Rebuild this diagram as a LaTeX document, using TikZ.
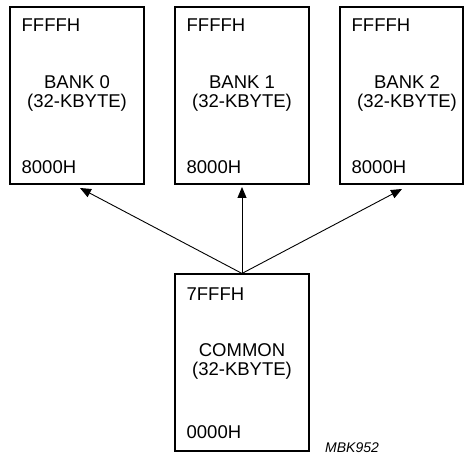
\documentclass[tikz,border=0pt]{standalone}
\usepackage{fontspec}
\setmainfont{Liberation Sans}
\usetikzlibrary{arrows.meta}
\tikzset{
  bankbox/.style={draw, line width=1.1pt, minimum width=134pt, minimum height=177pt, inner sep=0pt},
  banklabel/.style={align=center, inner sep=0pt},
  addr/.style={anchor=base west, inner sep=0pt},
  conn/.style={line width=0.9pt, -{Triangle[length=11pt,width=9pt]}}
}
\begin{document}
\begin{tikzpicture}[x=1pt, y=-1pt, font=\fontsize{18.5}{19}\selectfont]
            \useasboundingbox (0,0) rectangle (464,457);
            % the three banks
            \node[bankbox] (b0) at (77,95.5) {};
            \node[bankbox] (b1) at (242,95.5) {};
            \node[bankbox, minimum width=123pt] (b2) at (401.5,95.5) {};
            \node[banklabel] (b0name) at ([yshift=2pt]b0.center) {BANK 0\\(32-KBYTE)};
            \node[banklabel] (b1name) at ([yshift=2pt]b1.center) {BANK 1\\(32-KBYTE)};
            \node[banklabel] (b2name) at (407,93.5) {BANK 2\\(32-KBYTE)};
            \node[addr] (b0hi) at ([shift={(12,25)}]b0.north west) {FFFFH};
            \node[addr] (b1hi) at ([shift={(12,25)}]b1.north west) {FFFFH};
            \node[addr] (b2hi) at ([shift={(12,25)}]b2.north west) {FFFFH};
            \node[addr] (b0lo) at ([shift={(12,-11)}]b0.south west) {8000H};
            \node[addr] (b1lo) at ([shift={(12,-11)}]b1.south west) {8000H};
            \node[addr] (b2lo) at ([shift={(12,-11)}]b2.south west) {8000H};
            % common area
            \node[bankbox] (cmn) at (242,362.5) {};
            \node[banklabel] (cmnname) at ([yshift=1pt]cmn.center) {COMMON\\(32-KBYTE)};
            \node[addr] (cmnhi) at ([shift={(12,27)}]cmn.north west) {7FFFH};
            \node[addr] (cmnlo) at ([shift={(12,-13)}]cmn.south west) {0000H};
            \node[anchor=base west, inner sep=0pt, font=\fontsize{14}{16}\selectfont\itshape] (figid) at (325,453) {MBK952};
            % arrows
            \coordinate (t0) at (80,188);
            \coordinate (t1) at (242,187);
            \coordinate (t2) at (402,189);
            \draw[conn] (cmn.north) -- (t0);
            \draw[conn] (cmn.north) -- (t1);
            \draw[conn] (cmn.north) -- (t2);
        \end{tikzpicture}
\end{document}
